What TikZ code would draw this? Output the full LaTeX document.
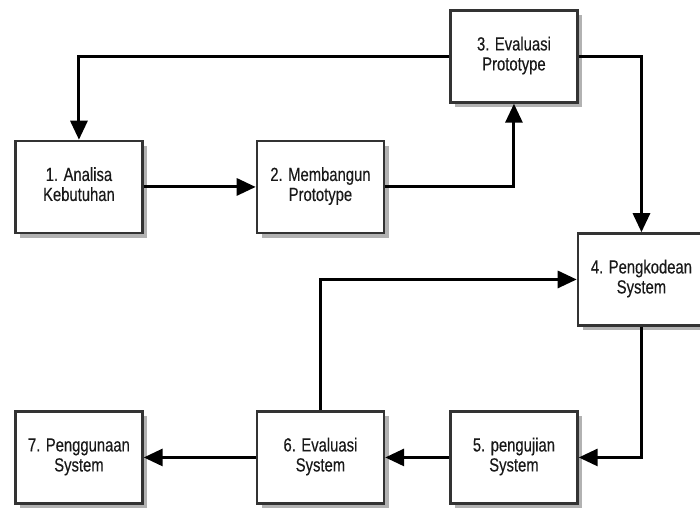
\documentclass[tikz,border=0pt]{standalone}
\usepackage{fontspec}
\setmainfont[FakeStretch=0.78,FakeBold=0.3]{Liberation Sans}
\usepackage{tikz}
\usetikzlibrary{matrix,arrows.meta,shadows}
\definecolor{boxline}{HTML}{333333}
\newcommand{\twoline}[2]{\begin{tabular}{@{}c@{}}#1\\#2\end{tabular}}

\begin{document}
\begin{tikzpicture}[x=1pt,y=-1pt,
	tahap/.style={draw=boxline,line width=2.5pt,fill=white,text=black!90,
		minimum width=127pt,minimum height=92pt,anchor=center,inner sep=0pt,
		font=\fontsize{19}{20}\selectfont,
		drop shadow={shadow xshift=5pt,shadow yshift=-5pt,fill=black!30,opacity=1}},
	alur/.style={line width=3pt,-{Triangle[length=19pt,width=17pt]}},
	hv/.style={to path={-| (\tikztotarget)}},
	vh/.style={to path={|- (\tikztotarget)}}]
\useasboundingbox (0,0) rectangle (700,509);
\matrix (m) [matrix of nodes,anchor=north west,inner sep=0pt,nodes={tahap}] at (14,9)
{
	&[112pt] &[64pt] \twoline{3. Evaluasi}{Prototype} &[-2pt] \\[36pt]
	\twoline{1. Analisa}{Kebutuhan} & \twoline{2. Membangun}{Prototype} & & \\[-2pt]
	& & & \twoline{4. Pengkodean}{System} \\[83.5pt]
	\twoline{7. Penggunaan}{System} & \twoline{6. Evaluasi}{System} & \twoline{5. pengujian}{System} & \\};
\path[alur]
(m-1-3) edge[hv] (m-2-1)
(m-2-1) edge (m-2-2)
(m-2-2) edge[hv] (m-1-3)
(m-1-3) edge[hv] (m-3-4)
(m-3-4) edge[vh] (m-4-3)
(m-4-3) edge (m-4-2)
(m-4-2) edge (m-4-1)
(m-4-2) edge[vh] (m-3-4);

\end{tikzpicture}
\end{document}
